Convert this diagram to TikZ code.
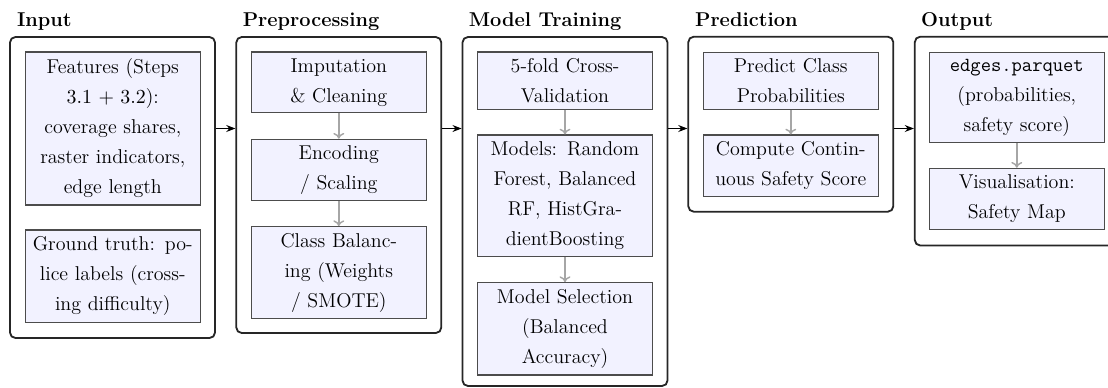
\documentclass[tikz,border=0pt]{standalone}
\usetikzlibrary{arrows.meta}
\tikzset{
  outerbox/.style={draw=black!85, line width=1pt, rounded corners=3pt, minimum width=112.75pt, inner sep=0pt},
  innerbox/.style={draw=black!70, line width=0.6pt, fill=blue!5, text width=90.5pt, inner sep=3pt, align=center, font=\fontsize{11}{16.5}\selectfont},
  coltitle/.style={anchor=base west, inner sep=0pt, font=\fontsize{11}{13}\selectfont\bfseries},
  flow/.style={-{Stealth[length=5pt,width=3.8pt]}, line width=0.6pt, black},
  subflow/.style={-{To[length=3.2pt,width=6pt]}, draw=black!35, line width=0.8pt},
}
\begin{document}
\begin{tikzpicture}[x=0.55pt, y=-0.55pt]
\useasboundingbox (0,0) rectangle (1108,387);
% outer containers
\node[outerbox, minimum height=165.55pt] (inp) at (112.5,187.5) {};
\node[outerbox, minimum height=162.8pt]  (pre) at (338.8,185) {};
\node[outerbox, minimum height=191.95pt] (mod) at (565,211.5) {};
\node[outerbox, minimum height=96.25pt]  (prd) at (790.8,124.2) {};
\node[outerbox, minimum height=114.85pt] (out) at (1017.3,141.1) {};
% titles
\node[coltitle] (tinp) at (16.7,26.5) {Input};
\node[coltitle] (tpre) at (242.5,26.5) {Preprocessing};
\node[coltitle] (tmod) at (468.5,26.5) {Model Training};
\node[coltitle] (tprd) at (694.8,26.5) {Prediction};
\node[coltitle] (tout) at (920.8,26.5) {Output};
% Input
\node[innerbox, minimum height=84.15pt] (feat) at (112.8,128.5) {Features (Steps\\ $3.1+3.2$):\\ coverage shares,\\ raster indicators,\\ edge length};
\node[innerbox, minimum height=51pt] (grd) at (112.8,276.35) {Ground truth: po-\\ lice labels (cross-\\ ing difficulty)};
% Preprocessing
\node[innerbox, minimum height=33.4pt] (imp) at (338.8,82.35) {Imputation\\ \& Cleaning};
\node[innerbox, minimum height=33.8pt] (enc) at (338.8,170) {Encoding\\ / Scaling};
\node[innerbox, minimum height=50.4pt] (cls) at (338.8,272.5) {Class Balanc-\\ ing (Weights\\ / SMOTE)};
% Model training
\node[innerbox, minimum height=31.5pt] (cv) at (565,80.65) {5-fold Cross-\\ Validation};
\node[innerbox, minimum height=66.9pt] (mdl) at (565,195.85) {Models: Random\\ Forest, Balanced\\ RF, HistGra-\\ dientBoosting};
\node[innerbox, minimum height=50.8pt] (sel) at (565,328.85) {Model Selection\\ (Balanced\\ Accuracy)};
% Prediction
\node[innerbox, minimum height=31.35pt] (pcp) at (790.8,80.8) {Predict Class\\ Probabilities};
\node[innerbox, minimum height=33.9pt] (css) at (790.8,165.85) {Compute Contin-\\ uous Safety Score};
% Output
\node[innerbox, minimum height=49.7pt] (edg) at (1016.8,97.5) {\texttt{edges.parquet}\\ (probabilities,\\ safety score)};
\node[innerbox, minimum height=33.55pt] (vis) at (1016.8,198.8) {Visualisation:\\ Safety Map};
% inner arrows
\draw[subflow] (imp) -- (enc);
\draw[subflow] (enc) -- (cls);
\draw[subflow] (cv) -- (mdl);
\draw[subflow] (mdl) -- (sel);
\draw[subflow] (pcp) -- (css);
\draw[subflow] (edg) -- (vis);
% stage arrows
\draw[flow] (inp.east |- feat) -- (pre.west |- feat);
\draw[flow] (pre.east |- feat) -- (mod.west |- feat);
\draw[flow] (mod.east |- feat) -- (prd.west |- feat);
\draw[flow] (prd.east |- feat) -- (out.west |- feat);
\end{tikzpicture}
\end{document}
